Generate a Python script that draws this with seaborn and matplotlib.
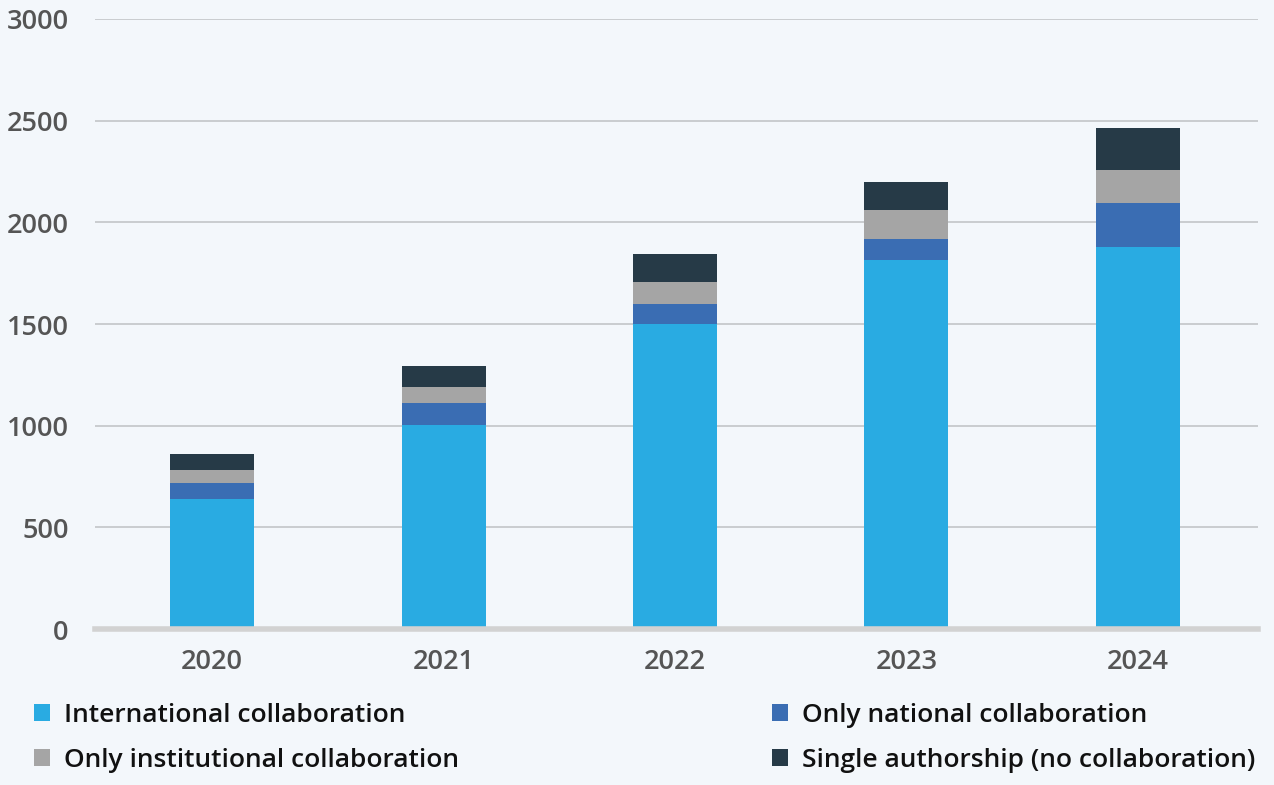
import numpy as np
import pandas as pd
import matplotlib.pyplot as plt
import seaborn as sns
from matplotlib.patches import Patch

years = ["2020", "2021", "2022", "2023", "2024"]
international = [639, 1003, 1498, 1815, 1877]
national = [79, 108, 99, 105, 218]
institutional = [62, 81, 110, 141, 161]
single = [79, 101, 139, 139, 210]

labels = ["International collaboration", "Only national collaboration",
          "Only institutional collaboration", "Single authorship (no collaboration)"]
colors = ["#29abe2", "#3a6db3", "#a5a5a5", "#263a47"]

BG = "#f3f7fb"

sns.set_theme(style="white")
plt.rcParams['font.family'] = ['Open Sans', 'DejaVu Sans']
plt.rcParams['font.weight'] = 600

df = pd.DataFrame({"year": years, "intl": international, "nat": national,
                   "inst": institutional, "single": single})
# cumulative heights so the stacks can be drawn back to front
df["c1"] = df["intl"]
df["c2"] = df["c1"] + df["nat"]
df["c3"] = df["c2"] + df["inst"]
df["c4"] = df["c3"] + df["single"]

fig = plt.figure(figsize=(12.74, 7.85), dpi=100, facecolor=BG)
ax = fig.add_axes([0.0746, 0.1987, 0.9128, 0.7771], facecolor=BG)

for col, c in zip(["c4", "c3", "c2", "c1"], colors[::-1]):
    sns.barplot(data=df, x="year", y=col, color=c, width=0.363,
                linewidth=0, saturation=1, ax=ax)

ax.set_xlim(-0.506, 4.519)
ax.set_ylim(0, 3000)
ax.set_yticks(range(0, 3001, 500))
ax.set_xlabel("")
ax.set_ylabel("")
ax.yaxis.grid(True, color="#c6c9cc", linewidth=1.3)
ax.set_axisbelow(True)
for s in ["top", "right", "left"]:
    ax.spines[s].set_visible(False)
ax.spines["bottom"].set_color("#d2d2d2")
ax.spines["bottom"].set_linewidth(4)
ax.tick_params(axis="y", length=0, pad=19, labelsize=19.5, labelcolor="#555555")
ax.tick_params(axis="x", length=0, pad=14, labelsize=19.5, labelcolor="#555555")

handles = [Patch(facecolor=colors[i], edgecolor="none") for i in range(4)]
order = [0, 2, 1, 3]
fig.legend([handles[i] for i in order], [labels[i] for i in order],
           ncol=2, loc="upper left", bbox_to_anchor=(0.008, 0.135),
           frameon=False, fontsize=19, handlelength=0.6, handleheight=0.6,
           handletextpad=0.55, columnspacing=11.85, labelspacing=0.75,
           labelcolor="#111111")

fig.savefig("out.png", dpi=100, facecolor=BG)
